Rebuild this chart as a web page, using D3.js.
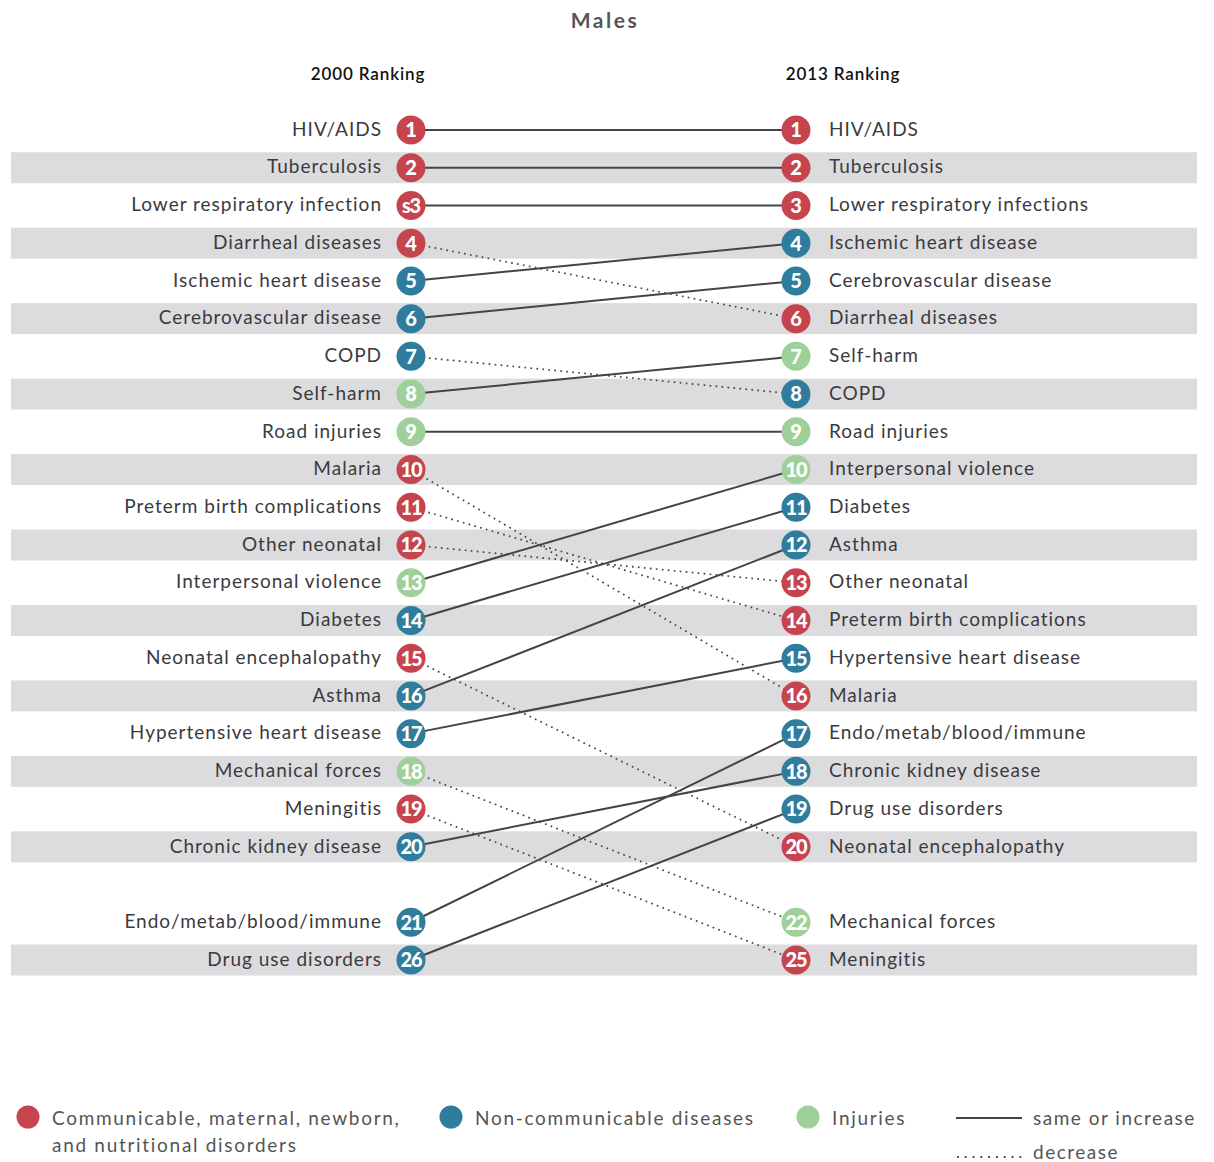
<!DOCTYPE html>
<html>
<head>
<meta charset="utf-8">
<script src="https://cdn.jsdelivr.net/npm/d3@7"></script>
<style>
  body { margin: 0; background: #fff; }
  text { font-family: Lato, "Open Sans", sans-serif; }
</style>
</head>
<body>
<script>
// data
const causes2000 = ["HIV/AIDS", "Tuberculosis", "Lower respiratory infection", "Diarrheal diseases",
  "Ischemic heart disease", "Cerebrovascular disease", "COPD", "Self-harm", "Road injuries", "Malaria",
  "Preterm birth complications", "Other neonatal", "Interpersonal violence", "Diabetes",
  "Neonatal encephalopathy", "Asthma", "Hypertensive heart disease", "Mechanical forces", "Meningitis",
  "Chronic kidney disease", "Endo/metab/blood/immune", "Drug use disorders"];
const rankLabels2000 = ["1", "2", "s3", "4", "5", "6", "7", "8", "9", "10", "11", "12", "13", "14", "15",
  "16", "17", "18", "19", "20", "21", "26"];
const groups2000 = ["c", "c", "c", "c", "n", "n", "n", "i", "i", "c", "c", "c", "i", "n", "c", "n", "n",
  "i", "c", "n", "n", "n"];

const causes2013 = ["HIV/AIDS", "Tuberculosis", "Lower respiratory infections", "Ischemic heart disease",
  "Cerebrovascular disease", "Diarrheal diseases", "Self-harm", "COPD", "Road injuries",
  "Interpersonal violence", "Diabetes", "Asthma", "Other neonatal", "Preterm birth complications",
  "Hypertensive heart disease", "Malaria", "Endo/metab/blood/immune", "Chronic kidney disease",
  "Drug use disorders", "Neonatal encephalopathy", "Mechanical forces", "Meningitis"];
const rankLabels2013 = ["1", "2", "3", "4", "5", "6", "7", "8", "9", "10", "11", "12", "13", "14", "15",
  "16", "17", "18", "19", "20", "22", "25"];
const groups2013 = ["c", "c", "c", "n", "n", "c", "i", "n", "i", "i", "n", "n", "c", "c", "n", "c", "n",
  "n", "n", "c", "i", "c"];

// [row in 2000 list, row in 2013 list]
const links = [[0, 0], [1, 1], [2, 2], [3, 5], [4, 3], [5, 4], [6, 7], [7, 6], [8, 8], [9, 15],
  [10, 13], [11, 12], [12, 9], [13, 10], [14, 19], [15, 11], [16, 14], [17, 20], [18, 21],
  [19, 17], [20, 16], [21, 18]];

const groupNames = ["c", "n", "i"];
const legendLabels = [["Communicable, maternal, newborn,", "and nutritional disorders"],
  ["Non-communicable diseases"], ["Injuries"]];

const W = 1214, H = 1162;
const xLeft = 411, xRight = 796, r = 14.5;

const svg = d3.select("body").append("svg")
  .attr("width", W).attr("height", H);

// rows 0..19 are ranks 1..20, then one empty slot
const slot = i => i < 20 ? i : i + 1;
const y = d3.scaleLinear().domain([0, 22]).range([130, 960]);
const color = d3.scaleOrdinal().domain(groupNames).range(["#c5444e", "#2f7c9c", "#9fd09a"]);

// grey bands
const bandRows = d3.range(22).filter(i => i % 2 === 1);
svg.selectAll("rect.band").data(bandRows).enter().append("rect")
  .attr("class", "band")
  .attr("x", 11).attr("width", 1186)
  .attr("y", i => y(slot(i)) - 15.5).attr("height", 31)
  .attr("fill", "#dcdcde");

// title + headers
svg.append("text").attr("x", 605).attr("y", 28).attr("text-anchor", "middle")
  .attr("font-size", 21).attr("font-weight", "bold").attr("fill", "#555").attr("letter-spacing", 2.5)
  .text("Males");
svg.append("text").attr("x", 368).attr("y", 80).attr("text-anchor", "middle")
  .attr("font-size", 17).attr("font-weight", 600).attr("fill", "#111").attr("letter-spacing", 0.9)
  .text("2000 Ranking");
svg.append("text").attr("x", 843).attr("y", 80).attr("text-anchor", "middle")
  .attr("font-size", 17).attr("font-weight", 600).attr("fill", "#111").attr("letter-spacing", 0.9)
  .text("2013 Ranking");

// slope lines
svg.selectAll("line.link").data(links).enter().append("line")
  .attr("class", "link")
  .attr("x1", xLeft).attr("y1", d => y(slot(d[0])))
  .attr("x2", xRight).attr("y2", d => y(slot(d[1])))
  .attr("stroke", "#444")
  .attr("stroke-width", d => d[1] <= d[0] ? 2 : 1.7)
  .attr("stroke-dasharray", d => d[1] <= d[0] ? null : "1.7,4.3");

function drawColumn(names, labels, groups, cx, side) {
  const g = svg.append("g");
  const rows = g.selectAll("g").data(names).enter().append("g")
    .attr("transform", (d, i) => `translate(${cx},${y(slot(i))})`);
  rows.append("circle").attr("r", r).attr("fill", (d, i) => color(groups[i]));
  rows.append("text")
    .attr("text-anchor", "middle").attr("dy", "0.37em")
    .attr("font-size", 20).attr("font-weight", 900).attr("fill", "#fff")
    .attr("letter-spacing", (d, i) => labels[i].length > 1 ? -1.2 : 0)
    .text((d, i) => labels[i]);
  rows.append("text")
    .attr("x", side === "left" ? -29 : 33)
    .attr("text-anchor", side === "left" ? "end" : "start")
    .attr("dy", "0.3em")
    .attr("font-size", 19).attr("fill", "#3a3a40").attr("letter-spacing", 1)
    .text(d => d);
}
drawColumn(causes2000, rankLabels2000, groups2000, xLeft, "left");
drawColumn(causes2013, rankLabels2013, groups2013, xRight, "right");

// legend
const legendX = [28, 451, 808];
const lg = svg.selectAll("g.legend").data(groupNames).enter().append("g")
  .attr("class", "legend")
  .attr("transform", (d, i) => `translate(${legendX[i]},1117)`);
lg.append("circle").attr("r", 11.5).attr("fill", d => color(d));
lg.each(function(d, i) {
  legendLabels[i].forEach((t, j) => {
    d3.select(this).append("text").attr("x", 24).attr("y", 8 + j * 27)
      .attr("font-size", 19).attr("fill", "#555").attr("letter-spacing", 1.7).text(t);
  });
});

svg.append("line").attr("x1", 956).attr("x2", 1022).attr("y1", 1118).attr("y2", 1118)
  .attr("stroke", "#444").attr("stroke-width", 2);
svg.append("text").attr("x", 1033).attr("y", 1125).attr("font-size", 19).attr("fill", "#555")
  .attr("letter-spacing", 1.5).text("same or increase");
svg.append("line").attr("x1", 957).attr("x2", 1024).attr("y1", 1157).attr("y2", 1157)
  .attr("stroke", "#444").attr("stroke-width", 1.8).attr("stroke-dasharray", "1.8,6");
svg.append("text").attr("x", 1033).attr("y", 1159).attr("font-size", 19).attr("fill", "#555")
  .attr("letter-spacing", 1.5).text("decrease");
</script>
</body>
</html>
